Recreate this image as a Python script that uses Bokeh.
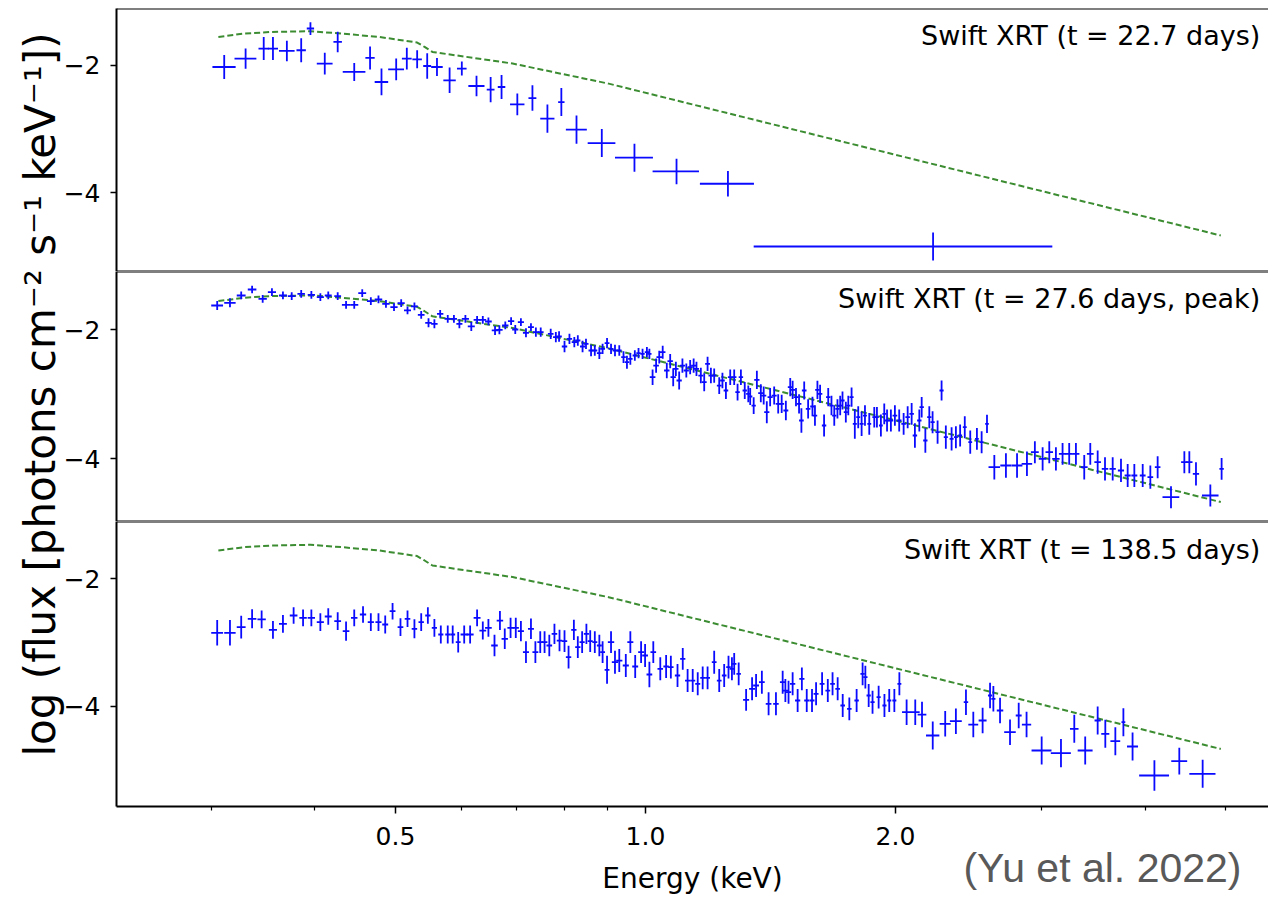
from math import pi
from bokeh.plotting import figure
from bokeh.layouts import column
from bokeh.models import (ColumnDataSource, FixedTicker, CustomJSTickFormatter, Range1d, Label, Span, GridBox)
from bokeh.embed import file_html
from bokeh.resources import INLINE

# ---------------- data ----------------
# model (peak fit), log flux vs energy (keV)
model_energy = [0.306, 0.329, 0.355, 0.395, 0.430, 0.478, 0.531, 0.542, 0.554, 0.560, 0.692, 0.903, 4.93]
model_logflux = [-1.555, -1.502, -1.477, -1.466, -1.502, -1.555, -1.643, -1.712, -1.791, -1.800, -1.973, -2.288, -4.671]

# t = 22.7 days
e1 = [0.311, 0.330, 0.347, 0.356, 0.370, 0.385, 0.395, 0.411, 0.426, 0.446, 0.466, 0.481, 0.501, 0.516, 0.531, 0.546,
      0.561, 0.581, 0.601, 0.626, 0.651, 0.671, 0.701, 0.731, 0.762, 0.792, 0.826, 0.886, 0.970, 1.090, 1.257, 2.220]
e1_err = [0.010, 0.010, 0.005, 0.005, 0.008, 0.005, 0.004, 0.009, 0.005, 0.014, 0.006, 0.009, 0.011, 0.007, 0.007, 0.006,
          0.009, 0.010, 0.008, 0.014, 0.007, 0.007, 0.014, 0.008, 0.015, 0.007, 0.024, 0.034, 0.051, 0.070, 0.094, 0.870]
f1 = [-2.027, -1.895, -1.738, -1.738, -1.775, -1.764, -1.423, -1.973, -1.634, -2.105, -1.885, -2.262, -2.063, -1.895,
      -1.906, -2.011, -2.027, -2.236, -2.052, -2.325, -2.382, -2.341, -2.613, -2.514, -2.837, -2.577, -3.010, -3.221,
      -3.450, -3.665, -3.859, -4.844]
f1_err = [0.19, 0.16, 0.18, 0.18, 0.16, 0.19, 0.10, 0.17, 0.16, 0.14, 0.18, 0.21, 0.17, 0.17, 0.14, 0.20,
          0.14, 0.20, 0.11, 0.16, 0.20, 0.19, 0.17, 0.20, 0.22, 0.22, 0.22, 0.22, 0.22, 0.20, 0.20, 0.22]

# t = 27.6 days (peak)
e2 = [0.305, 0.316, 0.326, 0.336, 0.346, 0.355, 0.366, 0.375, 0.385, 0.396, 0.406, 0.415, 0.426, 0.436, 0.446, 0.456,
      0.467, 0.477, 0.487, 0.498, 0.508, 0.517, 0.527, 0.537, 0.548, 0.557, 0.566, 0.578, 0.588, 0.597, 0.607, 0.617,
      0.627, 0.637, 0.647, 0.659, 0.667, 0.678, 0.689, 0.697, 0.708, 0.718, 0.728, 0.738, 0.748, 0.769, 0.780, 0.787,
      0.799, 0.810, 0.821, 0.829, 0.840, 0.848, 0.860, 0.869, 0.880, 0.888, 0.899, 0.909, 0.919, 0.930, 0.941, 0.950,
      0.959, 0.971, 0.981, 0.992, 1.004, 1.011, 1.020, 1.030, 1.039, 1.049, 1.061, 1.071, 1.080, 1.088, 1.098, 1.108,
      1.120, 1.132, 1.143, 1.152, 1.166, 1.177, 1.188, 1.199, 1.210, 1.227, 1.238, 1.250, 1.265, 1.279, 1.291, 1.303,
      1.317, 1.330, 1.337, 1.350, 1.362, 1.377, 1.388, 1.400, 1.413, 1.429, 1.445, 1.459, 1.476, 1.494, 1.504, 1.518,
      1.531, 1.541, 1.553, 1.570, 1.589, 1.600, 1.611, 1.623, 1.641, 1.660, 1.675, 1.688, 1.703, 1.716, 1.727, 1.743,
      1.755, 1.771, 1.787, 1.804, 1.821, 1.838, 1.860, 1.886, 1.900, 1.921, 1.939, 1.954, 1.975, 1.997, 2.021, 2.046,
      2.069, 2.092, 2.111, 2.137, 2.151, 2.173, 2.197, 2.217, 2.248, 2.273, 2.300, 2.337, 2.365, 2.393, 2.424, 2.461,
      2.507, 2.540, 2.578, 2.631, 2.717, 2.802, 2.880, 2.944, 3.008, 3.064, 3.121, 3.179, 3.238, 3.299, 3.376, 3.433,
      3.504, 3.576, 3.653, 3.738, 3.808, 3.879, 3.970, 4.055, 4.138, 4.294, 4.456, 4.518, 4.602, 4.789, 4.941]
e2_err = [0.005, 0.005, 0.004, 0.004, 0.004, 0.004, 0.004, 0.004, 0.004, 0.004, 0.004, 0.004, 0.004, 0.005, 0.005, 0.005,
          0.005, 0.005, 0.005, 0.005, 0.005, 0.005, 0.005, 0.005, 0.005, 0.005, 0.005, 0.005, 0.005, 0.005, 0.006, 0.006,
          0.006, 0.006, 0.006, 0.006, 0.006, 0.006, 0.006, 0.006, 0.006, 0.006, 0.006, 0.006, 0.006, 0.006, 0.006, 0.006,
          0.006, 0.006, 0.006, 0.006, 0.006, 0.006, 0.006, 0.006, 0.006, 0.006, 0.006, 0.006, 0.006, 0.006, 0.006, 0.006,
          0.006, 0.006, 0.006, 0.006, 0.006, 0.006, 0.008, 0.008, 0.008, 0.008, 0.008, 0.008, 0.008, 0.008, 0.008, 0.008,
          0.008, 0.008, 0.008, 0.008, 0.008, 0.008, 0.008, 0.008, 0.008, 0.008, 0.008, 0.008, 0.008, 0.008, 0.008, 0.008,
          0.008, 0.008, 0.008, 0.008, 0.010, 0.010, 0.010, 0.010, 0.010, 0.010, 0.010, 0.010, 0.010, 0.010, 0.010, 0.010,
          0.010, 0.010, 0.010, 0.010, 0.010, 0.010, 0.010, 0.010, 0.010, 0.010, 0.010, 0.010, 0.010, 0.010, 0.010, 0.010,
          0.010, 0.010, 0.010, 0.010, 0.010, 0.010, 0.010, 0.010, 0.010, 0.010, 0.010, 0.013, 0.013, 0.013, 0.013, 0.013,
          0.013, 0.013, 0.013, 0.013, 0.013, 0.013, 0.013, 0.013, 0.013, 0.013, 0.013, 0.013, 0.013, 0.013, 0.013, 0.013,
          0.013, 0.013, 0.013, 0.042, 0.042, 0.042, 0.042, 0.032, 0.032, 0.032, 0.032, 0.032, 0.032, 0.032, 0.032, 0.032,
          0.032, 0.032, 0.032, 0.032, 0.032, 0.032, 0.032, 0.032, 0.032, 0.100, 0.040, 0.040, 0.040, 0.110, 0.030]
f2 = [-1.623, -1.581, -1.468, -1.375, -1.519, -1.416, -1.468, -1.478, -1.442, -1.457, -1.494, -1.468, -1.478, -1.612,
      -1.612, -1.432, -1.556, -1.530, -1.597, -1.649, -1.587, -1.700, -1.638, -1.767, -1.891, -1.907, -1.752, -1.829,
      -1.829, -1.907, -1.829, -1.948, -1.845, -1.845, -1.871, -2.010, -2.000, -1.933, -1.866, -1.995, -1.881, -2.047,
      -1.959, -2.036, -2.036, -2.063, -2.114, -2.104, -2.259, -2.140, -2.192, -2.166, -2.259, -2.218, -2.321, -2.321,
      -2.362, -2.295, -2.207, -2.295, -2.321, -2.321, -2.424, -2.502, -2.450, -2.398, -2.362, -2.373, -2.347, -2.373,
      -2.735, -2.554, -2.424, -2.347, -2.631, -2.486, -2.735, -2.605, -2.786, -2.554, -2.631, -2.580, -2.554, -2.605,
      -2.709, -2.812, -2.528, -2.709, -2.709, -2.864, -2.786, -2.941, -2.735, -2.735, -2.967, -2.735, -2.941, -2.993,
      -3.034, -3.174, -2.776, -2.983, -3.019, -3.277, -3.044, -3.019, -3.148, -3.148, -3.251, -2.889, -2.931, -3.044,
      -3.148, -3.406, -2.941, -3.226, -3.189, -3.329, -2.931, -2.993, -3.484, -3.044, -3.174, -3.329, -3.226, -3.174,
      -3.096, -3.277, -3.174, -3.044, -3.458, -3.355, -3.458, -3.329, -3.458, -3.355, -3.355, -3.484, -3.303, -3.406,
      -3.406, -3.329, -3.406, -3.458, -3.355, -3.303, -3.639, -3.406, -3.200, -3.716, -3.355, -3.432, -3.587, -2.941,
      -3.665, -3.691, -3.665, -3.639, -3.510, -3.742, -3.691, -3.742, -3.458, -4.130, -4.104, -4.104, -4.078, -3.897,
      -4.001, -3.897, -4.001, -3.923, -3.923, -3.923, -4.130, -3.923, -4.052, -4.156, -4.156, -4.181, -4.259, -4.259,
      -4.259, -4.284, -4.130, -4.595, -4.052, -4.052, -4.233, -4.569, -4.156]
f2_err = [0.07, 0.07, 0.06, 0.06, 0.06, 0.06, 0.06, 0.06, 0.06, 0.06, 0.06, 0.06, 0.06, 0.06, 0.06, 0.06,
          0.06, 0.06, 0.06, 0.06, 0.06, 0.06, 0.06, 0.06, 0.07, 0.07, 0.06, 0.06, 0.06, 0.07, 0.06, 0.07,
          0.06, 0.06, 0.06, 0.07, 0.07, 0.06, 0.06, 0.07, 0.06, 0.07, 0.06, 0.07, 0.07, 0.08, 0.08, 0.08,
          0.09, 0.08, 0.08, 0.08, 0.09, 0.08, 0.09, 0.08, 0.09, 0.08, 0.08, 0.08, 0.09, 0.08, 0.09, 0.10,
          0.09, 0.08, 0.08, 0.08, 0.08, 0.08, 0.12, 0.11, 0.10, 0.10, 0.12, 0.11, 0.14, 0.11, 0.14, 0.11,
          0.11, 0.11, 0.11, 0.11, 0.12, 0.14, 0.11, 0.12, 0.11, 0.13, 0.12, 0.13, 0.12, 0.12, 0.13, 0.12,
          0.13, 0.13, 0.13, 0.13, 0.14, 0.14, 0.14, 0.17, 0.14, 0.14, 0.15, 0.14, 0.15, 0.14, 0.14, 0.14,
          0.15, 0.19, 0.14, 0.15, 0.15, 0.16, 0.14, 0.14, 0.17, 0.14, 0.15, 0.16, 0.15, 0.15, 0.14, 0.16,
          0.15, 0.15, 0.23, 0.17, 0.19, 0.16, 0.17, 0.16, 0.16, 0.17, 0.16, 0.17, 0.17, 0.16, 0.17, 0.17,
          0.17, 0.17, 0.19, 0.17, 0.16, 0.19, 0.17, 0.17, 0.18, 0.155, 0.18, 0.18, 0.17, 0.17, 0.17, 0.18,
          0.17, 0.17, 0.14, 0.19, 0.19, 0.19, 0.19, 0.17, 0.18, 0.17, 0.18, 0.17, 0.17, 0.17, 0.19, 0.17,
          0.18, 0.18, 0.18, 0.18, 0.18, 0.18, 0.18, 0.18, 0.17, 0.17, 0.17, 0.17, 0.18, 0.17, 0.17]

# t = 138.5 days
e3 = [0.305, 0.316, 0.326, 0.336, 0.345, 0.356, 0.366, 0.377, 0.387, 0.396, 0.406, 0.415, 0.426, 0.436, 0.446, 0.457,
      0.467, 0.477, 0.486, 0.496, 0.507, 0.517, 0.527, 0.537, 0.547, 0.557, 0.567, 0.578, 0.586, 0.595, 0.605, 0.615,
      0.627, 0.637, 0.647, 0.658, 0.668, 0.677, 0.688, 0.698, 0.708, 0.718, 0.728, 0.737, 0.747, 0.756, 0.766, 0.777,
      0.788, 0.799, 0.808, 0.820, 0.829, 0.839, 0.849, 0.858, 0.869, 0.880, 0.888, 0.899, 0.909, 0.919, 0.930, 0.947,
      0.959, 0.972, 0.988, 0.999, 1.011, 1.022, 1.042, 1.059, 1.073, 1.093, 1.109, 1.124, 1.140, 1.156, 1.172, 1.188,
      1.210, 1.227, 1.244, 1.259, 1.271, 1.279, 1.295, 1.322, 1.344, 1.359, 1.381, 1.407, 1.436, 1.463, 1.474, 1.487,
      1.504, 1.525, 1.543, 1.564, 1.587, 1.605, 1.632, 1.658, 1.680, 1.704, 1.728, 1.760, 1.796, 1.826, 1.840, 1.857,
      1.877, 1.909, 1.940, 1.966, 1.994, 2.022, 2.063, 2.113, 2.153, 2.218, 2.296, 2.365, 2.432, 2.482, 2.547, 2.600,
      2.624, 2.673, 2.748, 2.815, 2.877, 3.000, 3.165, 3.284, 3.385, 3.504, 3.579, 3.680, 3.763, 3.860, 4.101, 4.394,
      4.688]
e3_err = [0.005, 0.005, 0.004, 0.004, 0.004, 0.004, 0.004, 0.004, 0.004, 0.004, 0.004, 0.004, 0.004, 0.004, 0.004, 0.004,
          0.004, 0.004, 0.004, 0.004, 0.004, 0.004, 0.004, 0.004, 0.004, 0.004, 0.004, 0.004, 0.004, 0.004, 0.006, 0.006,
          0.006, 0.006, 0.006, 0.006, 0.006, 0.006, 0.006, 0.006, 0.006, 0.006, 0.006, 0.006, 0.006, 0.006, 0.006, 0.006,
          0.006, 0.006, 0.006, 0.006, 0.006, 0.006, 0.006, 0.006, 0.006, 0.006, 0.006, 0.006, 0.008, 0.008, 0.008, 0.008,
          0.008, 0.008, 0.008, 0.008, 0.008, 0.008, 0.008, 0.008, 0.008, 0.008, 0.008, 0.008, 0.008, 0.008, 0.008, 0.008,
          0.008, 0.008, 0.008, 0.008, 0.008, 0.008, 0.008, 0.011, 0.011, 0.011, 0.011, 0.011, 0.011, 0.011, 0.011, 0.011,
          0.011, 0.011, 0.011, 0.011, 0.011, 0.011, 0.011, 0.011, 0.011, 0.011, 0.011, 0.011, 0.011, 0.011, 0.011, 0.011,
          0.011, 0.011, 0.011, 0.011, 0.011, 0.011, 0.026, 0.026, 0.026, 0.041, 0.035, 0.039, 0.015, 0.034, 0.028, 0.015,
          0.015, 0.024, 0.044, 0.023, 0.037, 0.083, 0.088, 0.039, 0.070, 0.030, 0.040, 0.050, 0.020, 0.059, 0.170, 0.097,
          0.170]
f3 = [-2.848, -2.848, -2.759, -2.628, -2.638, -2.801, -2.707, -2.576, -2.613, -2.613, -2.681, -2.592, -2.665, -2.822,
      -2.613, -2.560, -2.681, -2.681, -2.717, -2.508, -2.759, -2.628, -2.785, -2.681, -2.576, -2.770, -2.874, -2.874,
      -2.874, -2.995, -2.874, -2.874, -2.613, -2.812, -2.770, -3.047, -2.655, -2.942, -2.770, -2.770, -2.822, -3.152,
      -2.785, -3.152, -2.995, -2.995, -3.047, -2.864, -2.969, -2.979, -3.230, -2.801, -3.073, -2.995, -2.864, -2.979,
      -2.995, -3.047, -3.152, -3.429, -2.995, -3.309, -3.283, -3.361, -2.995, -3.377, -3.152, -3.204, -3.502, -3.152,
      -3.413, -3.377, -3.387, -3.518, -3.257, -3.597, -3.597, -3.649, -3.555, -3.555, -3.309, -3.597, -3.518, -3.387,
      -3.413, -3.335, -3.492, -3.900, -3.727, -3.675, -3.623, -3.963, -3.963, -3.623, -3.754, -3.780, -3.649, -3.911,
      -3.571, -3.911, -3.911, -3.806, -3.649, -3.754, -3.649, -3.727, -3.989, -4.042, -3.911, -3.492, -3.544, -3.832,
      -3.937, -3.858, -3.989, -3.911, -3.911, -3.649, -4.094, -4.094, -4.131, -4.460, -4.277, -4.235, -3.937, -4.288,
      -4.225, -3.832, -3.884, -4.068, -4.408, -4.146, -4.288, -4.696, -4.737, -4.355, -4.696, -4.225, -4.434, -4.549,
      -4.251, -4.633, -5.088, -4.863, -5.062]
f3_err = [0.20, 0.20, 0.18, 0.15, 0.14, 0.14, 0.14, 0.13, 0.13, 0.13, 0.14, 0.13, 0.14, 0.15, 0.13, 0.13,
          0.14, 0.14, 0.14, 0.13, 0.14, 0.13, 0.15, 0.14, 0.13, 0.14, 0.14, 0.14, 0.14, 0.16, 0.14, 0.14,
          0.13, 0.14, 0.14, 0.17, 0.15, 0.16, 0.16, 0.16, 0.16, 0.17, 0.16, 0.17, 0.17, 0.17, 0.17, 0.16,
          0.17, 0.17, 0.18, 0.16, 0.17, 0.17, 0.16, 0.17, 0.17, 0.17, 0.17, 0.22, 0.17, 0.18, 0.18, 0.18,
          0.17, 0.18, 0.17, 0.18, 0.20, 0.17, 0.18, 0.18, 0.18, 0.18, 0.17, 0.18, 0.18, 0.18, 0.18, 0.18,
          0.18, 0.18, 0.18, 0.18, 0.18, 0.17, 0.18, 0.17, 0.18, 0.18, 0.18, 0.18, 0.18, 0.18, 0.18, 0.18,
          0.18, 0.18, 0.18, 0.18, 0.18, 0.18, 0.18, 0.18, 0.18, 0.18, 0.18, 0.18, 0.18, 0.18, 0.18, 0.18,
          0.18, 0.18, 0.18, 0.18, 0.18, 0.18, 0.20, 0.20, 0.20, 0.22, 0.20, 0.20, 0.20, 0.20, 0.20, 0.20,
          0.20, 0.20, 0.20, 0.20, 0.20, 0.22, 0.22, 0.22, 0.22, 0.22, 0.22, 0.22, 0.22, 0.22, 0.24, 0.21,
          0.22]

panel_labels = ["Swift XRT (t = 22.7 days)", "Swift XRT (t = 27.6 days, peak)", "Swift XRT (t = 138.5 days)"]
x_ticks = [0.5, 1.0, 2.0]
x_minor_ticks = [0.3, 0.4, 0.6, 0.7, 0.8, 0.9, 3.0, 4.0, 5.0]
y_ticks = [-2, -4]
y_label = "log (flux [photons cm\u207b\u00b2 s\u207b\u00b9 keV\u207b\u00b9])"
x_label = "Energy (keV)"
credit = "(Yu et al. 2022)"

# ---------------- styling ----------------
FONT = "DejaVu Sans"
BLUE = "#0a0aff"
GREEN = "#3c8c32"
W, H = 1268, 899
LEFT = 116

x_range = Range1d(0.2307, 5.627)


def make_panel(height, ylim, top, bottom, with_x_axis):
    p = figure(width=W, height=height, x_range=x_range, y_range=Range1d(ylim[0], ylim[1]),
               x_axis_type="log", x_axis_location="below" if with_x_axis else None,
               output_backend="svg", toolbar_location=None,
               min_border_left=LEFT, min_border_right=0, min_border_top=top, min_border_bottom=bottom)
    p.outline_line_color = None
    p.xgrid.visible = False
    p.ygrid.visible = False
    p.background_fill_color = "white"
    p.border_fill_color = "white"
    ya = p.yaxis[0]
    ya.ticker = FixedTicker(ticks=y_ticks, minor_ticks=[])
    ya.major_label_overrides = {-2: "\u22122", -4: "\u22124"}
    ya.major_tick_out = 6
    ya.major_tick_in = 0
    ya.minor_tick_out = 0
    ya.minor_tick_in = 0
    ya.axis_line_width = 2
    ya.axis_line_color = "black"
    ya.major_tick_line_width = 1.5
    ya.major_label_text_font = FONT
    ya.major_label_text_font_size = "25px"
    ya.major_label_text_color = "black"
    ya.major_label_standoff = 10
    # top / bottom frame borders
    p.add_layout(Span(location=ylim[1], dimension="width", line_color="black", line_width=2))
    if not with_x_axis:
        p.add_layout(Span(location=ylim[0], dimension="width", line_color="black", line_width=2))
    return p


def draw(p, e, eerr, f, ferr):
    src = ColumnDataSource(dict(
        x=e, x0=[a - b for a, b in zip(e, eerr)], x1=[a + b for a, b in zip(e, eerr)],
        y=f, y0=[a - b for a, b in zip(f, ferr)], y1=[a + b for a, b in zip(f, ferr)]))
    p.line(model_energy, model_logflux, line_color=GREEN, line_width=2, line_dash="6 3")
    p.segment(x0="x0", y0="y", x1="x1", y1="y", source=src, line_color=BLUE, line_width=1.8)
    p.segment(x0="x", y0="y0", x1="x", y1="y1", source=src, line_color=BLUE, line_width=1.8)


def panel_label(p, text, y):
    p.add_layout(Label(x=5.50, y=y, text=text, text_align="right", text_baseline="alphabetic",
                       text_font=FONT, text_font_size="27px", text_color="black"))


p1 = make_panel(271, (-5.236, -1.109), 8, 0, False)
draw(p1, e1, e1_err, f1, f1_err)
panel_label(p1, panel_labels[0], -1.54)

p2 = make_panel(250, (-4.972, -1.096), 0, 0, False)
draw(p2, e2, e2_err, f2, f2_err)
panel_label(p2, panel_labels[1], -1.52)

p3 = make_panel(378, (-5.575, -1.100), 0, 93, True)
draw(p3, e3, e3_err, f3, f3_err)
panel_label(p3, panel_labels[2], -1.545)
xa = p3.xaxis[0]
xa.ticker = FixedTicker(ticks=x_ticks, minor_ticks=x_minor_ticks)
xa.formatter = CustomJSTickFormatter(code="return tick.toFixed(1);")
xa.major_tick_out = 7
xa.major_tick_in = 0
xa.minor_tick_out = 4
xa.minor_tick_in = 0
xa.axis_line_width = 2
xa.axis_line_color = "black"
xa.major_tick_line_width = 1.5
xa.minor_tick_line_width = 1.2
xa.major_label_text_font = FONT
xa.major_label_text_font_size = "25px"
xa.major_label_text_color = "black"
xa.major_label_standoff = 13
xa.axis_label = x_label
xa.axis_label_text_font = FONT
xa.axis_label_text_font_size = "28px"
xa.axis_label_text_font_style = "normal"
xa.axis_label_text_color = "black"
xa.axis_label_standoff = 14

panels = column(p1, p2, p3, spacing=0)

# transparent overlay carrying the shared y label and the credit line
ov = figure(width=W, height=H, x_range=Range1d(0, W), y_range=Range1d(H, 0),
            x_axis_location=None, y_axis_location=None, output_backend="svg", toolbar_location=None,
            min_border=0, min_border_left=0, min_border_right=0, min_border_top=0, min_border_bottom=0)
ov.outline_line_color = None
ov.background_fill_color = None
ov.border_fill_color = None
ov.grid.visible = False
ov.add_layout(Label(x=40, y=394, text=y_label, angle=pi / 2, text_align="center", text_baseline="middle",
                    text_font=FONT, text_font_size="42px", text_color="black"))
ov.add_layout(Label(x=1241, y=867, text=credit, text_align="right", text_baseline="alphabetic",
                    text_font="Liberation Sans", text_font_size="41px", text_color="#595959"))

layout = GridBox(children=[(panels, 0, 0), (ov, 0, 0)])
open("out.html", "w").write(file_html(layout, INLINE, "Swift XRT spectra"))
